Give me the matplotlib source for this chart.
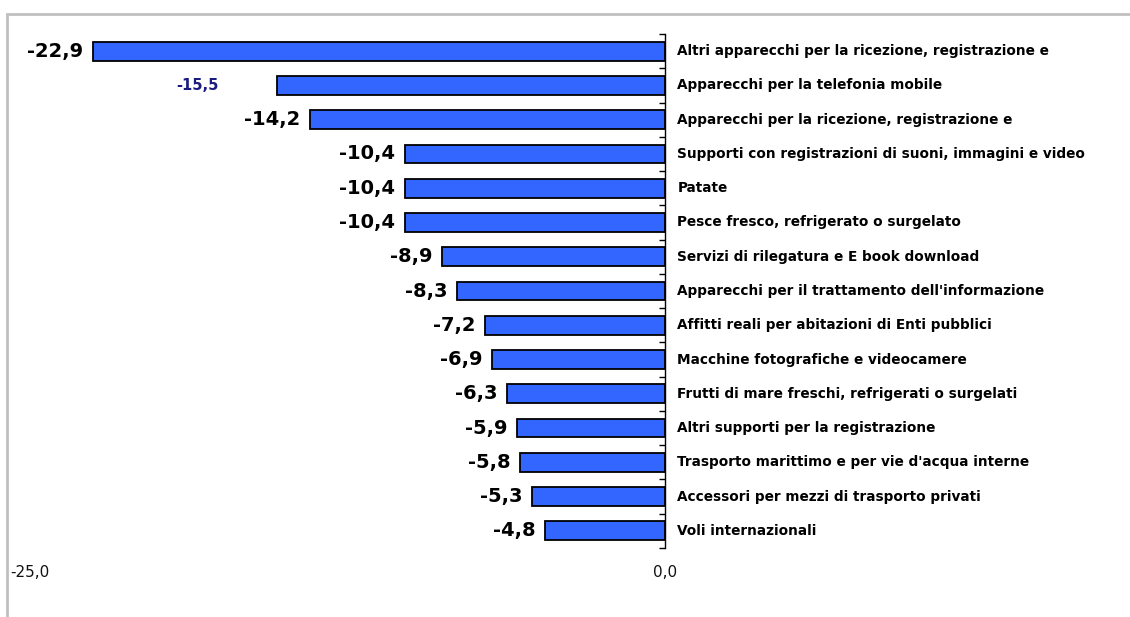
import matplotlib
matplotlib.use('Agg')
import matplotlib.pyplot as plt
from matplotlib.patches import Rectangle
import matplotlib.transforms as mtransforms
import numpy as np

categories = [
    "Altri apparecchi per la ricezione, registrazione e",
    "Apparecchi per la telefonia mobile",
    "Apparecchi per la ricezione, registrazione e",
    "Supporti con registrazioni di suoni, immagini e video",
    "Patate",
    "Pesce fresco, refrigerato o surgelato",
    "Servizi di rilegatura e E book download",
    "Apparecchi per il trattamento dell'informazione",
    "Affitti reali per abitazioni di Enti pubblici",
    "Macchine fotografiche e videocamere",
    "Frutti di mare freschi, refrigerati o surgelati",
    "Altri supporti per la registrazione",
    "Trasporto marittimo e per vie d'acqua interne",
    "Accessori per mezzi di trasporto privati",
    "Voli internazionali",
]
values = [-22.9, -15.5, -14.2, -10.4, -10.4, -10.4, -8.9, -8.3,
          -7.2, -6.9, -6.3, -5.9, -5.8, -5.3, -4.8]
x_ticks = [-25.0, 0.0]

W, H = 1130, 617
fig = plt.figure(figsize=(W / 100, H / 100), dpi=100)
fig.patch.set_facecolor('white')

# grey chart-area frame (runs off the right and bottom edges)
fig.patches.append(Rectangle((7 / W, -0.1), 1.2, 1 - 14 / H + 0.1,
                             transform=fig.transFigure, fill=False,
                             edgecolor='#c0c0c0', linewidth=2))

ax = fig.add_axes([40 / W, 1 - 548 / H, 625 / W, 514 / H])
ax.set_facecolor('none')

y = np.arange(len(categories))
bars = ax.barh(y, values, height=0.55, color='#3366ff', edgecolor='black',
               linewidth=1.3, zorder=2)

ax.set_xlim(-25, 0)
ax.set_ylim(len(categories) - 0.5, -0.5)

for s in ['top', 'left', 'bottom']:
    ax.spines[s].set_visible(False)
ax.spines['right'].set_color('black')
ax.spines['right'].set_linewidth(1)
ax.spines['right'].set_zorder(3)

ax.yaxis.tick_right()
ax.set_yticks(np.arange(len(categories) + 1) - 0.5)
ax.set_yticklabels([])
ax.set_yticks(y, minor=True)
ax.tick_params(axis='y', which='both', direction='in', length=4, width=1,
               color='black')

ax.set_xticks(x_ticks)
ax.set_xticklabels([f"{v:.1f}".replace('.', ',') for v in x_ticks],
                   fontsize=11, family='DejaVu Sans', color='#111111')
ax.tick_params(axis='x', length=0, pad=12)
# the left end label sits a little to the left of its tick
shift = mtransforms.ScaledTranslation(-10 / 100, 0, fig.dpi_scale_trans)
lbl = ax.get_xticklabels()[0]
lbl.set_transform(lbl.get_transform() + shift)

# category names to the right of the axis
for yi, name in zip(y, categories):
    ax.annotate(name, xy=(0, yi), xytext=(9, 0), textcoords='offset points',
                ha='left', va='center', fontsize=9.8, fontweight='bold',
                family='DejaVu Sans', color='black')

# value labels
for yi, v in zip(y, values):
    txt = f"{v:.1f}".replace('.', ',')
    if yi == 1:
        ax.annotate(txt, xy=(v, yi), xytext=(-42.5, 0), textcoords='offset points',
                    ha='right', va='center', fontsize=10.5, fontweight='bold',
                    family='DejaVu Sans', color='#1a1a80')
    else:
        ax.annotate(txt, xy=(v, yi), xytext=(-7, 0), textcoords='offset points',
                    ha='right', va='center', fontsize=14, fontweight='bold',
                    family='DejaVu Sans', color='black')

fig.savefig('out.png', dpi=100)
